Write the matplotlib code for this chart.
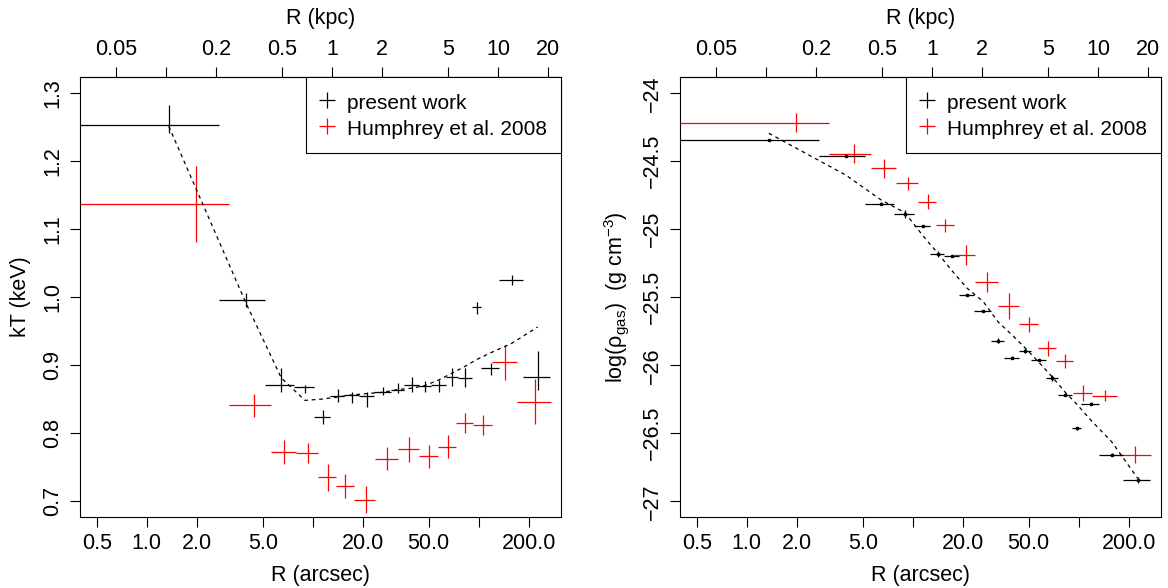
import matplotlib
matplotlib.use("Agg")
import numpy as np
import matplotlib.pyplot as plt
from matplotlib.lines import Line2D
from matplotlib.ticker import NullLocator

plt.rcParams['font.family'] = ['Liberation Sans', 'DejaVu Sans']
plt.rcParams['mathtext.fontset'] = 'custom'
plt.rcParams['mathtext.rm'] = 'Liberation Sans'
plt.rcParams['mathtext.it'] = 'Liberation Sans:italic'

FS = 15.5
KPC_PER_ARCSEC = 0.0762

# present work: radial bins (arcsec), centres
pw_lo = [0.0, 2.71, 5.19, 7.76, 10.23, 12.79, 15.54, 19.07, 23.38, 29.84,
         35.49, 43.87, 51.46, 63.34, 74.8, 90.67, 103.8, 132.4, 183.7]
pw_hi = [2.71, 5.19, 7.76, 10.23, 12.79, 15.54, 19.07, 23.38, 29.84, 35.49,
         43.87, 51.46, 63.34, 74.8, 90.67, 103.8, 132.4, 183.7, 269.7]
pw_r = [1.36, 3.95, 6.47, 8.99, 11.49, 14.16, 17.32, 21.23, 26.63, 32.66,
        39.69, 47.67, 57.41, 69.06, 82.7, 97.25, 118.1, 158.5, 226.7]

# present work temperature (keV) with lower / upper bounds
pw_kt = [1.253, 0.996, 0.870, 0.868, 0.824, 0.855, 0.856, 0.855, 0.861, 0.864,
         0.870, 0.869, 0.871, 0.882, 0.881, 0.985, 0.896, 1.025, 0.883]
pw_kt_lo = [1.241, 0.986, 0.860, 0.859, 0.814, 0.845, 0.844, 0.839, 0.856, 0.859,
            0.861, 0.860, 0.861, 0.869, 0.868, 0.975, 0.885, 1.018, 0.864]
pw_kt_hi = [1.283, 1.006, 0.895, 0.871, 0.834, 0.865, 0.861, 0.861, 0.867, 0.874,
            0.882, 0.876, 0.878, 0.896, 0.895, 0.993, 0.903, 1.033, 0.920]
pw_kt_model = [1.251, 0.992, 0.881, 0.848, 0.850, 0.853, 0.856, 0.858, 0.860, 0.864,
               0.866, 0.870, 0.878, 0.888, 0.898, 0.908, 0.918, 0.932, 0.956]

# present work gas density log(g cm^-3)
pw_rho = [-24.343, -24.461, -24.812, -24.888, -24.976, -25.182, -25.196, -25.483,
          -25.601, -25.819, -25.944, -25.893, -25.961, -26.093, -26.216, -26.463,
          -26.282, -26.657, -26.843]
pw_rho_err = [0.01, 0.01, 0.01, 0.03, 0.01, 0.02, 0.01, 0.01, 0.01, 0.02,
              0.01, 0.02, 0.01, 0.02, 0.01, 0.01, 0.01, 0.01, 0.02]
pw_rho_model = [-24.294, -24.601, -24.785, -24.878, -25.045, -25.176, -25.307,
                -25.432, -25.532, -25.68, -25.777, -25.873, -25.976, -26.084,
                -26.196, -26.285, -26.402, -26.564, -26.831]

# Humphrey et al. 2008
hu_lo = [0.0, 3.15, 5.59, 7.96, 10.82, 13.82, 17.8, 23.77, 32.52, 43.87,
         56.9, 72.6, 92.8, 119.8, 169.3]
hu_hi = [3.15, 5.59, 7.96, 10.82, 13.82, 17.8, 23.77, 32.52, 43.87, 56.9,
         72.6, 92.8, 119.8, 169.3, 271.5]
hu_r = [1.97, 4.43, 6.75, 9.33, 12.31, 15.73, 20.86, 28.03, 38.22, 50.2,
        65.1, 82.3, 106.6, 144.6, 218.3]
hu_kt = [1.137, 0.841, 0.772, 0.771, 0.735, 0.722, 0.702, 0.762, 0.776, 0.766,
         0.780, 0.815, 0.812, 0.904, 0.846]
hu_kt_err = [0.056, 0.017, 0.018, 0.015, 0.020, 0.018, 0.020, 0.017, 0.018, 0.017,
             0.017, 0.015, 0.015, 0.026, 0.033]
hu_rho = [-24.216, -24.446, -24.551, -24.662, -24.797, -24.971, -25.189, -25.385,
          -25.564, -25.699, -25.875, -25.968, -26.204, -26.224, -26.657]
hu_rho_err = [0.07, 0.07, 0.07, 0.05, 0.055, 0.05, 0.077, 0.073, 0.095, 0.057,
              0.055, 0.05, 0.06, 0.04, 0.064]

arc_ticks = [0.5, 1, 2, 5, 10, 20, 50, 100, 200]
arc_labels = ['0.5', '1.0', '2.0', '5.0', '', '20.0', '50.0', '', '200.0']
kpc_ticks = [0.05, 0.1, 0.2, 0.5, 1, 2, 5, 10, 20]
kpc_labels = ['0.05', '', '0.2', '0.5', '1', '2', '5', '10', '20']


def xerr(r, lo, hi):
    r = np.array(r)
    return [r - np.array(lo), np.array(hi) - r]


def style_axes(ax, ylim, yticks, ylabels, ylabel):
    ax.set_xscale('log')
    ax.set_xlim(0.395, 313.2)
    ax.set_ylim(*ylim)
    ax.set_xticks(arc_ticks)
    ax.set_xticklabels(arc_labels)
    ax.xaxis.set_minor_locator(NullLocator())
    ax.set_yticks(yticks)
    ax.set_yticklabels(ylabels, rotation=90, va='center')
    ax.tick_params(direction='out', length=7, width=0.8, labelsize=FS, pad=5)
    for s in ax.spines.values():
        s.set_linewidth(0.8)
    ax.set_xlabel('R (arcsec)', fontsize=FS, labelpad=8)
    ax.set_ylabel(ylabel, fontsize=FS, labelpad=8)
    sec = ax.secondary_xaxis('top', functions=(lambda x: x * KPC_PER_ARCSEC,
                                               lambda x: x / KPC_PER_ARCSEC))
    sec.set_xticks(kpc_ticks)
    sec.set_xticklabels(kpc_labels)
    sec.xaxis.set_minor_locator(NullLocator())
    sec.tick_params(direction='out', length=7, width=0.8, labelsize=FS, pad=5)
    sec.spines['top'].set_linewidth(0.8)
    sec.set_xlabel('R (kpc)', fontsize=FS, labelpad=11)
    handles = [Line2D([], [], color='black', marker='+', ls='none', ms=12, mew=0.9),
               Line2D([], [], color='red', marker='+', ls='none', ms=12, mew=0.9)]
    leg = ax.legend(handles, ['present work', 'Humphrey et al. 2008'],
                    loc='upper right', borderaxespad=0, fancybox=False,
                    edgecolor='black', framealpha=1, fontsize=15,
                    handlelength=0.67, handleheight=1.25, handletextpad=0.62,
                    borderpad=0.68, labelspacing=0.2)
    leg.get_frame().set_linewidth(0.8)


fig = plt.figure(figsize=(11.68, 5.88), dpi=100)
ax1 = fig.add_axes([0.0682, 0.1213, 0.4121, 0.7483])
ax2 = fig.add_axes([0.5819, 0.1213, 0.4121, 0.7483])

# left: temperature
ax1.errorbar(hu_r, hu_kt, xerr=xerr(hu_r, hu_lo, hu_hi), yerr=hu_kt_err,
             fmt='none', ecolor='red', elinewidth=0.9, capsize=0)
kt = np.array(pw_kt)
ax1.errorbar(pw_r, pw_kt, xerr=xerr(pw_r, pw_lo, pw_hi),
             yerr=[kt - np.array(pw_kt_lo), np.array(pw_kt_hi) - kt],
             fmt='none', ecolor='black', elinewidth=0.9, capsize=0)
ax1.plot(pw_r, pw_kt_model, color='black', lw=0.9, ls=(0, (3, 3)))
style_axes(ax1, (0.677, 1.324), [0.7, 0.8, 0.9, 1.0, 1.1, 1.2, 1.3],
           ['0.7', '0.8', '0.9', '1.0', '1.1', '1.2', '1.3'], 'kT (keV)')

# right: density
ax2.errorbar(hu_r, hu_rho, xerr=xerr(hu_r, hu_lo, hu_hi), yerr=hu_rho_err,
             fmt='none', ecolor='red', elinewidth=0.9, capsize=0)
ax2.errorbar(pw_r, pw_rho, xerr=xerr(pw_r, pw_lo, pw_hi), yerr=pw_rho_err,
             fmt='none', ecolor='black', elinewidth=0.9, capsize=0)
ax2.plot(pw_r, pw_rho, 's', color='black', ms=1.5)
ax2.plot(pw_r, pw_rho_model, color='black', lw=0.9, ls=(0, (3, 3)))
style_axes(ax2, (-27.113, -23.878), [-27, -26.5, -26, -25.5, -25, -24.5, -24],
           ['\u221227', '\u221226.5', '\u221226', '\u221225.5', '\u221225',
            '\u221224.5', '\u221224'],
           'log(\u03c1$_{\\rm gas}$)  (g cm$^{-3}$)')

fig.savefig('out.png', dpi=100)
